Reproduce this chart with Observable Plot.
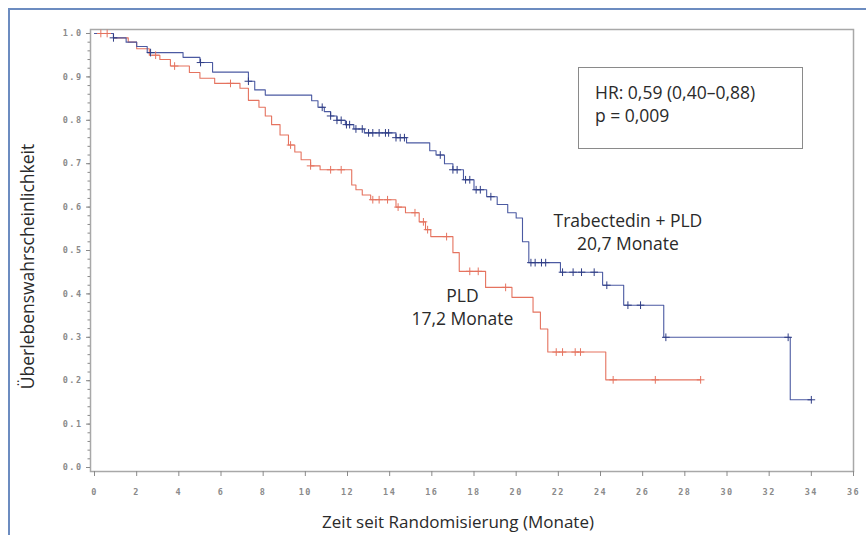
<!DOCTYPE html>
<html>
<head>
<meta charset="utf-8">
<script src="https://cdn.jsdelivr.net/npm/d3@7"></script>
<script src="https://cdn.jsdelivr.net/npm/@observablehq/plot@0.6"></script>
<style>
  html, body { margin: 0; padding: 0; background: #fff; }
  #wrap { position: relative; width: 866px; height: 535px; overflow: hidden; font-family: "Open Sans", sans-serif; }
  #outer { position: absolute; left: 8px; top: 8px; width: 870px; height: 540px; border-top: 2px solid #6c8cc0; border-left: 2px solid #6c8cc0; }
  #hrbox { position: absolute; left: 578px; top: 67px; width: 225px; height: 82px; border: 1px solid #8a8a8a; box-sizing: border-box; padding: 13px 0 0 16px; font-size: 17.5px; line-height: 23px; color: #2a2a2a; }
  #chart { position: absolute; left: 0; top: 0; }
  g[aria-label$="tick label"] text { letter-spacing: 1.5px; }
</style>
</head>
<body>
<div id="wrap">
  <div id="outer"></div>
  <div id="chart"></div>
  <div id="hrbox">HR: 0,59 (0,40–0,88)<br>p = 0,009</div>
</div>
<script>
// Trabectedin + PLD (blue): step times (months) and survival after each step
const blueTime = [0, 0.9, 1.5, 2.0, 2.5, 4.2, 5.0, 5.6, 7.3, 7.6, 8.1, 10.3, 10.6, 10.9, 11.2, 11.5, 11.9, 12.3, 12.8, 14.3, 14.8, 15.9, 16.2, 16.6, 17.0, 17.5, 18.0, 18.6, 19.1, 19.6, 20.0, 20.3, 20.6, 22.1, 24.1, 25.1, 27.0, 33.0, 34.0];
const blueSurv = [1.0, 0.99, 0.98, 0.97, 0.956, 0.945, 0.933, 0.911, 0.89, 0.87, 0.858, 0.845, 0.83, 0.82, 0.81, 0.80, 0.79, 0.78, 0.771, 0.76, 0.748, 0.73, 0.72, 0.70, 0.686, 0.663, 0.64, 0.624, 0.606, 0.587, 0.575, 0.52, 0.472, 0.45, 0.42, 0.374, 0.30, 0.156, 0.156];
const blueCensor = [0.9, 2.66, 5.03, 7.3, 10.8, 11.2, 11.5, 11.7, 11.95, 12.1, 12.4, 12.7, 13.0, 13.2, 13.5, 13.8, 13.95, 14.3, 14.5, 14.7, 16.4, 17.0, 17.2, 17.6, 17.8, 18.1, 18.3, 18.8, 20.7, 20.9, 21.2, 21.4, 22.2, 22.7, 23.1, 23.7, 24.3, 25.3, 25.9, 27.1, 32.9, 34.0];

// PLD (red)
const redTime = [0, 0.9, 1.6, 2.0, 2.6, 3.1, 3.6, 4.5, 5.0, 5.7, 6.9, 7.3, 7.8, 8.1, 8.4, 8.8, 9.2, 9.5, 9.8, 10.25, 10.7, 12.2, 12.4, 12.7, 13.1, 14.3, 14.75, 15.4, 15.7, 15.95, 17.0, 17.3, 18.55, 19.8, 20.8, 21.15, 21.5, 24.25, 28.75];
const redSurv = [1.0, 0.99, 0.98, 0.965, 0.95, 0.94, 0.925, 0.91, 0.897, 0.885, 0.874, 0.846, 0.83, 0.81, 0.79, 0.766, 0.743, 0.727, 0.709, 0.695, 0.686, 0.651, 0.64, 0.628, 0.617, 0.60, 0.587, 0.566, 0.548, 0.532, 0.495, 0.452, 0.415, 0.392, 0.358, 0.319, 0.266, 0.202, 0.202];
const redCensor = [0.3, 0.6, 2.9, 3.8, 6.45, 9.3, 10.25, 11.2, 11.7, 13.2, 13.5, 13.9, 14.4, 15.2, 15.6, 15.8, 16.7, 17.8, 18.2, 19.5, 21.9, 22.2, 22.8, 23.05, 24.6, 26.6, 28.75];

const xTicks = d3.range(0, 37, 2);
const yTicks = d3.range(0, 11).map(d => d / 10);
const yMinor = d3.range(0, 51).map(d => d / 50);

const labels = [
  {x: 25.3, y: 0.567, text: "Trabectedin + PLD"},
  {x: 25.3, y: 0.514, text: "20,7 Monate"},
  {x: 17.45, y: 0.394, text: "PLD"},
  {x: 17.45, y: 0.341, text: "17,2 Monate"}
];

const blueColor = "#4b5aa2";
const redColor = "#e5735f";

function toSteps(times, surv) {
  return times.map((t, i) => ({t, s: surv[i]}));
}
function survAt(times, surv, t) {
  let s = surv[0];
  for (let i = 0; i < times.length; i++) if (times[i] <= t) s = surv[i];
  return s;
}
const blue = toSteps(blueTime, blueSurv);
const red = toSteps(redTime, redSurv);
const blueC = blueCensor.map(t => ({t, s: survAt(blueTime, blueSurv, t)}));
const redC = redCensor.map(t => ({t, s: survAt(redTime, redSurv, t)}));

const chart = Plot.plot({
  width: 866,
  height: 535,
  marginLeft: 90,
  marginRight: 13,
  marginTop: 29,
  marginBottom: 64,
  style: {fontFamily: "'Open Sans', sans-serif", background: "transparent", overflow: "visible"},
  x: {domain: [-0.19, 36]},
  y: {domain: [-0.0092, 1.0092]},
  marks: [
    Plot.frame({stroke: "#a8a8a8", strokeWidth: 1.5}),
    Plot.axisY({ticks: yMinor, tickSize: 2.5, text: null, stroke: "#8a8a8a", label: null}),
    Plot.axisY({ticks: yTicks, tickSize: 4, tickPadding: 4, tickFormat: d3.format(".1f"),
      fontSize: 8.5, fontWeight: "bold", fontFamily: "'DejaVu Sans Mono', monospace", color: "#8a8a8a", label: null}),
    Plot.axisX({ticks: xTicks, tickSize: 5, tickPadding: 12, tickFormat: d3.format("d"),
      fontSize: 8.5, fontWeight: "bold", fontFamily: "'DejaVu Sans Mono', monospace", color: "#8a8a8a", label: null}),
    Plot.line(red, {x: "t", y: "s", curve: "step-after", stroke: redColor, strokeWidth: 1.1}),
    Plot.line(blue, {x: "t", y: "s", curve: "step-after", stroke: blueColor, strokeWidth: 1.1}),
    Plot.dot(redC, {x: "t", y: "s", symbol: "plus", r: 2.6, stroke: redColor, strokeWidth: 1}),
    Plot.dot(blueC, {x: "t", y: "s", symbol: "plus", r: 2.6, stroke: "#2f3d85", strokeWidth: 1}),
    Plot.text(labels, {x: "x", y: "y", text: "text", fontSize: 17.5, fill: "#2a2a2a", textAnchor: "middle"}),
    Plot.text(["Überlebenswahrscheinlichkeit"], {frameAnchor: "left", dx: -62, dy: 16, rotate: -90, textAnchor: "middle", lineAnchor: "middle", fontSize: 17.5, fill: "#2a2a2a"}),
    Plot.text(["Zeit seit Randomisierung (Monate)"], {frameAnchor: "bottom", dx: -14, dy: 51, textAnchor: "middle", lineAnchor: "middle", fontSize: 17, fill: "#2a2a2a"})
  ]
});
document.getElementById("chart").appendChild(chart);
</script>
</body>
</html>
